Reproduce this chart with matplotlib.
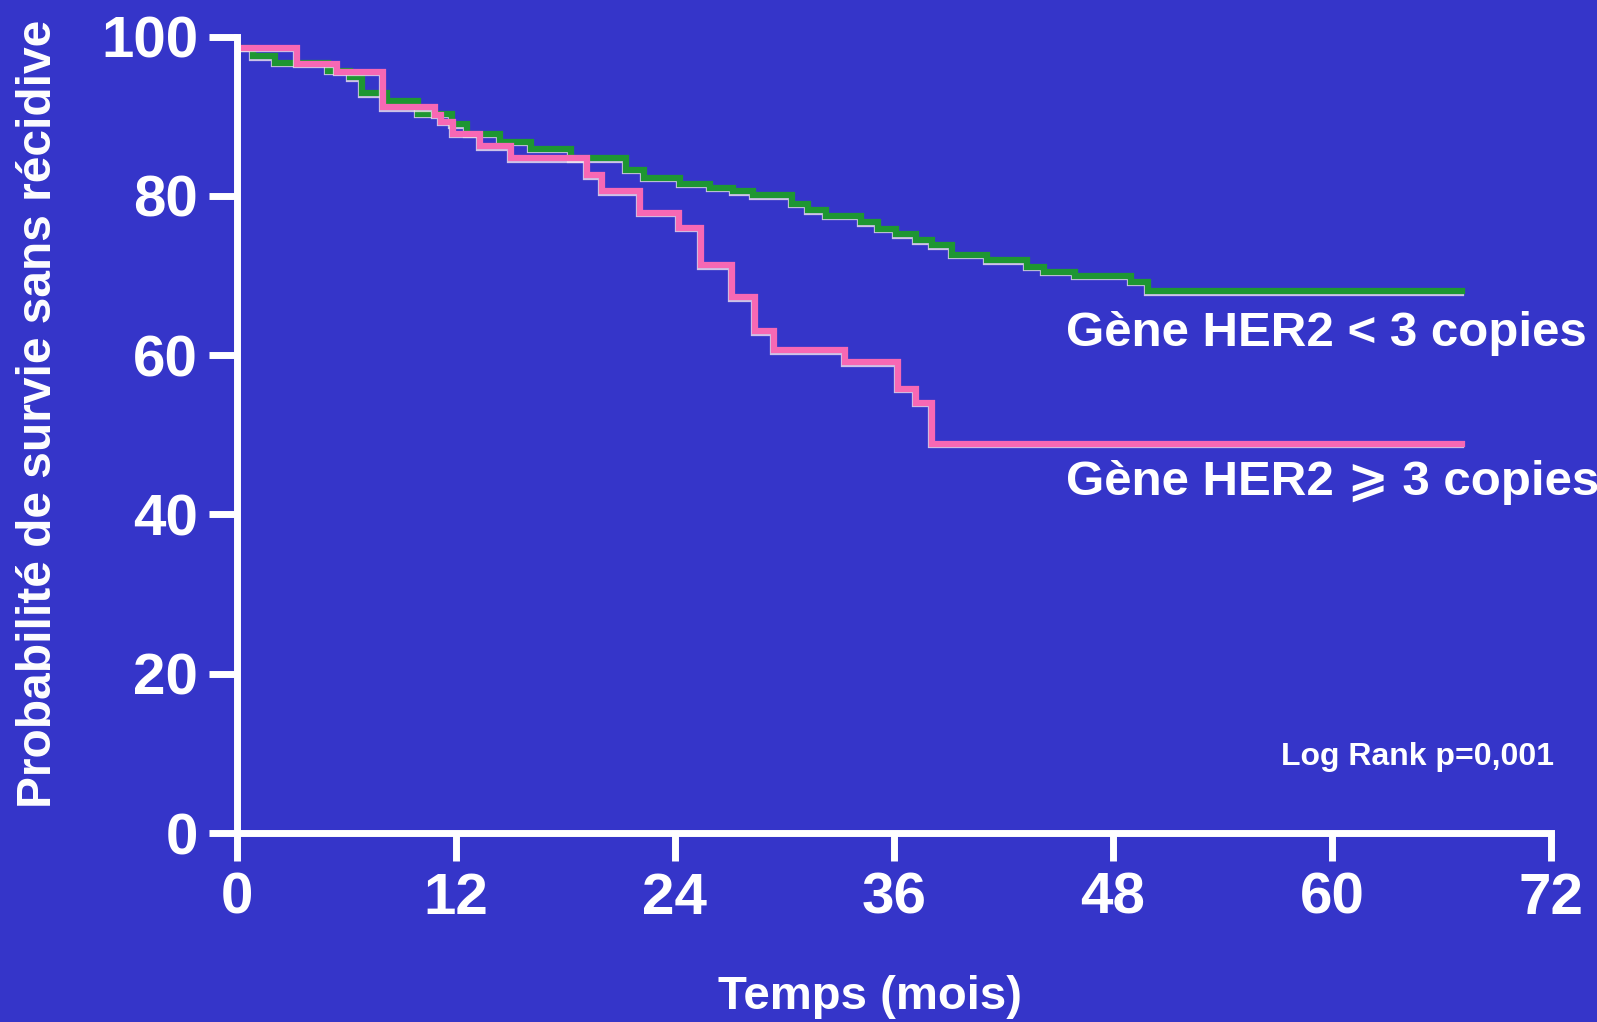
import numpy as np
import matplotlib.pyplot as plt
import matplotlib.transforms as mtransforms

# Kaplan-Meier steps (month of drop, survival after drop)
t_low = [0, 0.9, 2.1, 5.0, 6.2, 6.85, 8.2, 9.9, 11.8, 12.6, 14.4, 16.1, 18.3,
         21.3, 22.3, 24.3, 25.9, 27.2, 28.3, 30.4, 31.3, 32.3, 34.2, 35.1,
         36.1, 37.2, 38.1, 39.2, 41.1, 43.3, 44.2, 45.9, 49.0, 49.9, 67.1]
s_low = [98.6, 97.5, 96.7, 95.7, 94.9, 92.9, 91.9, 90.3, 89.0, 87.8, 86.8,
         85.9, 84.7, 83.3, 82.3, 81.5, 81.0, 80.6, 80.1, 79.0, 78.2, 77.5,
         76.7, 75.9, 75.2, 74.4, 73.8, 72.6, 71.9, 71.1, 70.5, 70.0, 69.2,
         68.0, 68.0]

t_high = [0, 3.3, 5.5, 8.0, 10.85, 11.2, 11.85, 13.3, 15.0, 19.2, 20.0, 22.1,
          24.2, 25.4, 27.1, 28.4, 29.4, 33.3, 36.2, 37.2, 38.1, 67.1]
s_high = [98.6, 96.6, 95.6, 91.1, 90.2, 89.3, 87.8, 86.2, 84.7, 82.6, 80.6,
          77.9, 76.0, 71.3, 67.3, 63.0, 60.6, 59.1, 55.8, 54.0, 48.9, 48.9]

xticks = [0, 12, 24, 36, 48, 60, 72]
yticks = [0, 20, 40, 60, 80, 100]

BG = '#3535c9'
PINK = '#f768b4'
GREEN = '#1e9632'

plt.rcParams['font.family'] = ['Liberation Sans', 'DejaVu Sans']
plt.rcParams['font.weight'] = 'bold'

fig = plt.figure(figsize=(15.97, 10.22), dpi=100, facecolor=BG)
ax = fig.add_axes([0.1484, 0.1849, 0.9712 - 0.1484, 0.9642 - 0.1849])
ax.set_facecolor(BG)

# thin light edge under each curve
shadow = mtransforms.offset_copy(ax.transData, fig=fig, x=-1, y=-1.5, units='dots')
for t, s, c in [(t_low, s_low, GREEN), (t_high, s_high, PINK)]:
    ax.step(t, s, where='post', color='#f4e8f0', lw=4.5, transform=shadow,
            solid_joinstyle='miter', alpha=0.8)
    ax.step(t, s, where='post', color=c, lw=4.5, solid_joinstyle='miter')

ax.set_xlim(0, 72)
ax.set_ylim(0, 100)
ax.set_xticks(xticks)
ax.set_yticks(yticks)
for sp in ['top', 'right']:
    ax.spines[sp].set_visible(False)
for sp in ['left', 'bottom']:
    ax.spines[sp].set_color('white')
    ax.spines[sp].set_linewidth(5)
    ax.spines[sp].set_capstyle('projecting')
ax.tick_params(colors='white', width=5, length=20, labelsize=42, pad=8)
for lab in ax.get_xticklabels() + ax.get_yticklabels():
    lab.set_fontweight('bold')

ax.text(45.4, 62.7, 'Gène HER2 < 3 copies', color='white', fontsize=35.5,
        fontweight='bold', va='center', ha='left', clip_on=False)
ax.text(45.4, 44.0, 'Gène HER2 ⩾ 3 copies', color='white', fontsize=35.5,
        fontweight='bold', va='center', ha='left', clip_on=False)
ax.text(57.2, 9.5, 'Log Rank p=0,001', color='white', fontsize=23,
        fontweight='bold', va='center', ha='left')

fig.text(0.024, 0.595, 'Probabilité de survie sans récidive', color='white',
         fontsize=34.5, fontweight='bold', rotation=90, ha='center', va='center')
fig.text(0.545, 0.024, 'Temps (mois)', color='white', fontsize=34,
         fontweight='bold', ha='center', va='center')

fig.savefig('out.png', dpi=100, facecolor=BG)
